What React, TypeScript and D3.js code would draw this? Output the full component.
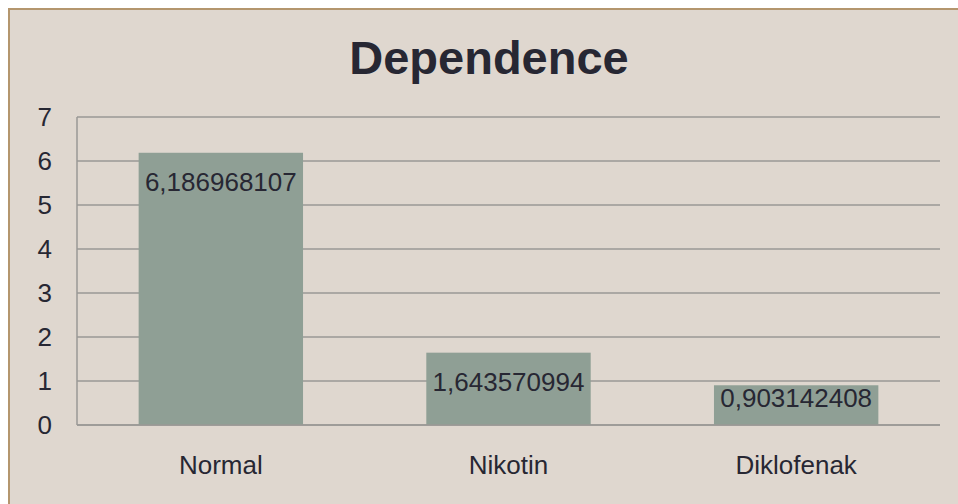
import React from "react";
import * as d3 from "d3";

// Chart data
const categories: string[] = ["Normal", "Nikotin", "Diklofenak"];
const values: number[] = [6.186968107, 1.643570994, 0.903142408];
const yTicks: number[] = [0, 1, 2, 3, 4, 5, 6, 7];
const title = "Dependence";

const W = 958;
const H = 504;
const plot = { left: 77, right: 940, top: 117, bottom: 425 };

const BG = "#dfd7cf";
const BORDER = "#b4966e";
const BAR = "#8f9f95";
const GRID = "#9a9896";
const TEXT = "#272733";
const FONT = "'Liberation Sans', Arial, sans-serif";

const fmt = (v: number) => String(v).replace(".", ",");

export default function App() {
  const gap = 0.75 / 1.75;
  const x = d3
    .scaleBand<string>()
    .domain(categories)
    .range([plot.left, plot.right])
    .paddingInner(gap)
    .paddingOuter(gap / 2);
  const y = d3.scaleLinear().domain([0, 7]).range([plot.bottom, plot.top]);

  return (
    <svg
      width={W}
      height={H}
      style={{ position: "fixed", left: 0, top: 0, display: "block" }}
      fontFamily={FONT}
    >
      <rect x={0} y={0} width={W} height={H} fill="#ffffff" />
      <rect x={9} y={9} width={W + 20} height={H + 20} fill={BG} stroke={BORDER} strokeWidth={2} />

      <text x={489} y={74} textAnchor="middle" fontSize={47} fontWeight="bold" fill={TEXT}>
        {title}
      </text>

      {/* horizontal gridlines */}
      {yTicks.map((t) => (
        <line
          key={"g" + t}
          x1={plot.left}
          x2={plot.right}
          y1={y(t)}
          y2={y(t)}
          stroke={GRID}
          strokeWidth={1.5}
        />
      ))}
      {/* value axis line */}
      <line x1={plot.left} x2={plot.left} y1={y(7)} y2={y(0)} stroke={GRID} strokeWidth={1.5} />

      {/* tick labels */}
      {yTicks.map((t) => (
        <text key={"t" + t} x={52} y={y(t) + 9} textAnchor="end" fontSize={26} fill={TEXT}>
          {t}
        </text>
      ))}

      {/* bars */}
      {categories.map((c, i) => (
        <rect
          key={"b" + c}
          x={x(c)}
          y={y(values[i])}
          width={x.bandwidth()}
          height={y(0) - y(values[i])}
          fill={BAR}
        />
      ))}
      {/* baseline drawn over bars */}
      <line x1={plot.left} x2={plot.right} y1={y(0)} y2={y(0)} stroke={GRID} strokeWidth={1.5} />

      {/* value labels, inside end */}
      {categories.map((c, i) => (
        <text
          key={"v" + c}
          x={(x(c) as number) + x.bandwidth() / 2}
          y={Math.min(y(values[i]) + 38, y(0) - 18)}
          textAnchor="middle"
          fontSize={26}
          fill={TEXT}
        >
          {fmt(values[i])}
        </text>
      ))}

      {/* category labels */}
      {categories.map((c) => (
        <text
          key={"c" + c}
          x={(x(c) as number) + x.bandwidth() / 2}
          y={474}
          textAnchor="middle"
          fontSize={26}
          fill={TEXT}
        >
          {c}
        </text>
      ))}
    </svg>
  );
}
